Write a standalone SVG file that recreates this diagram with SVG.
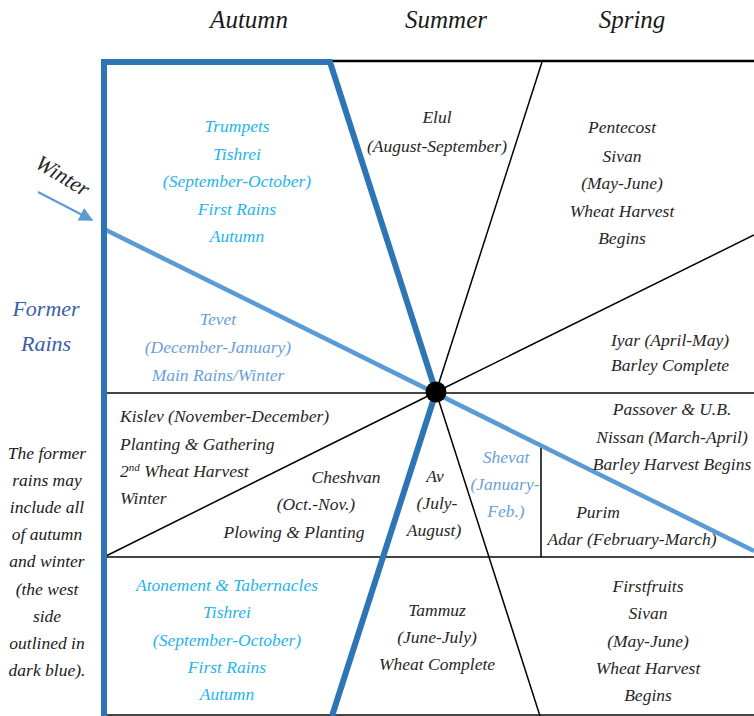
<svg xmlns="http://www.w3.org/2000/svg" width="754" height="716" viewBox="0 0 754 716">
  <style>
    text { font-family: "Liberation Serif", "DejaVu Serif", serif; font-style: italic; font-size: 17.5px; fill: #262626; }
    .c { text-anchor: middle; }
    .head { font-size: 25px; fill: #1a1a1a; }
    .cyan { fill: #1fb4ec; }
    .sky { fill: #6a9fd9; }
    .navy { fill: #3a5ea8; font-size: 22px; }
    .note { font-size: 17.5px; fill: #1a1a1a; }
    .thin { stroke: #000; stroke-width: 1.5; fill: none; }
    .grid { stroke: #444; stroke-width: 2.2; fill: none; }
    .rim { stroke: #2e75b6; stroke-width: 6; fill: none; stroke-linejoin: miter; }
    .rain { stroke: #5b9bd5; stroke-width: 4.5; fill: none; }
  </style>
  <defs>
    <marker id="tri" viewBox="0 0 10 10" refX="9" refY="5" markerWidth="7" markerHeight="7" orient="auto" markerUnits="strokeWidth">
      <path d="M0,0 L10,5 L0,10 z" fill="#5b9bd5"/>
    </marker>
  </defs>
  <rect width="754" height="716" fill="#fff"/>

  <!-- season headings -->
  <g id="headings">
    <text class="head c" x="249" y="28">Autumn</text>
    <text class="head c" x="446" y="28">Summer</text>
    <text class="head c" x="632" y="28">Spring</text>
  </g>

  <!-- dividing lines of the month wheel -->
  <g id="connectors">
    <line class="thin" x1="330" y1="61" x2="754" y2="61" style="stroke-width:2.5"/>
    <line class="grid" x1="105" y1="393" x2="754" y2="393"/>
    <line class="grid" x1="105" y1="557" x2="754" y2="557"/>
    <line class="grid" x1="105" y1="715" x2="754" y2="715"/>
    <line class="thin" x1="436" y1="392" x2="542" y2="62"/>
    <line class="thin" x1="436" y1="392" x2="754" y2="235"/>
    <line class="thin" x1="436" y1="392" x2="106" y2="556"/>
    <line class="thin" x1="436" y1="392" x2="540" y2="716"/>
    <line class="thin" x1="541" y1="446" x2="541" y2="557"/>
    <line class="rain" x1="106" y1="230" x2="754" y2="551"/>
    <polyline class="rim" points="104,716 104,62 330,62 436,392 332,716"/>
    <line x1="38" y1="192" x2="92" y2="220" stroke="#5b9bd5" stroke-width="2" marker-end="url(#tri)"/>
    <circle cx="436" cy="392" r="10.5" fill="#000"/>
  </g>

  <g id="winter-label">
    <text class="c" transform="translate(59,182) rotate(31)" style="font-size:22px" x="0" y="0">Winter</text>
  </g>

  <g id="former-rains">
    <text class="navy c" x="46" y="316">Former</text>
    <text class="navy c" x="46" y="351">Rains</text>
  </g>

  <g id="note">
    <text class="note c" x="47" y="459">The former</text>
    <text class="note c" x="47" y="486">rains may</text>
    <text class="note c" x="47" y="513">include all</text>
    <text class="note c" x="47" y="540">of autumn</text>
    <text class="note c" x="47" y="567">and winter</text>
    <text class="note c" x="47" y="595">(the west</text>
    <text class="note c" x="47" y="622">side</text>
    <text class="note c" x="47" y="649">outlined in</text>
    <text class="note c" x="47" y="676">dark blue).</text>
  </g>

  <g id="tishrei-trumpets">
    <text class="cyan c" x="237" y="132">Trumpets</text>
    <text class="cyan c" x="237" y="160">Tishrei</text>
    <text class="cyan c" x="237" y="187">(September-October)</text>
    <text class="cyan c" x="237" y="215">First Rains</text>
    <text class="cyan c" x="237" y="242">Autumn</text>
  </g>

  <g id="elul">
    <text class="c" x="437" y="123">Elul</text>
    <text class="c" x="437" y="152">(August-September)</text>
  </g>

  <g id="sivan-pentecost">
    <text class="c" x="622" y="133">Pentecost</text>
    <text class="c" x="622" y="162">Sivan</text>
    <text class="c" x="622" y="189">(May-June)</text>
    <text class="c" x="622" y="217">Wheat Harvest</text>
    <text class="c" x="622" y="244">Begins</text>
  </g>

  <g id="iyar">
    <text class="c" x="670" y="346">Iyar (April-May)</text>
    <text class="c" x="670" y="371">Barley Complete</text>
  </g>

  <g id="tevet">
    <text class="sky c" x="218" y="325">Tevet</text>
    <text class="sky c" x="218" y="353">(December-January)</text>
    <text class="sky c" x="218" y="381">Main Rains/Winter</text>
  </g>

  <g id="kislev">
    <text x="120" y="422">Kislev (November-December)</text>
    <text x="120" y="450">Planting &amp; Gathering</text>
    <text x="120" y="477">2<tspan font-size="11" dy="-6">nd</tspan><tspan dy="6"> Wheat Harvest</tspan></text>
    <text x="120" y="504">Winter</text>
  </g>

  <g id="cheshvan">
    <text class="c" x="346" y="483">Cheshvan</text>
    <text class="c" x="316" y="510">(Oct.-Nov.)</text>
    <text class="c" x="294" y="538">Plowing &amp; Planting</text>
  </g>

  <g id="av">
    <text class="c" x="435" y="482">Av</text>
    <text class="c" x="437" y="509">(July-</text>
    <text class="c" x="434" y="536">August)</text>
  </g>

  <g id="shevat">
    <text class="sky c" x="506" y="463">Shevat</text>
    <text class="sky c" x="505" y="490">(January-</text>
    <text class="sky c" x="506" y="517">Feb.)</text>
  </g>

  <g id="nissan">
    <text class="c" x="672" y="415">Passover &amp; U.B.</text>
    <text class="c" x="672" y="443">Nissan (March-April)</text>
    <text class="c" x="672" y="470">Barley Harvest Begins</text>
  </g>

  <g id="adar">
    <text class="c" x="598" y="518">Purim</text>
    <text class="c" x="632" y="545">Adar (February-March)</text>
  </g>

  <g id="tishrei-atonement">
    <text class="cyan c" x="227" y="591">Atonement &amp; Tabernacles</text>
    <text class="cyan c" x="227" y="618">Tishrei</text>
    <text class="cyan c" x="227" y="646">(September-October)</text>
    <text class="cyan c" x="227" y="673">First Rains</text>
    <text class="cyan c" x="227" y="700">Autumn</text>
  </g>

  <g id="tammuz">
    <text class="c" x="437" y="616">Tammuz</text>
    <text class="c" x="437" y="643">(June-July)</text>
    <text class="c" x="437" y="670">Wheat Complete</text>
  </g>

  <g id="sivan-firstfruits">
    <text class="c" x="648" y="592">Firstfruits</text>
    <text class="c" x="648" y="619">Sivan</text>
    <text class="c" x="648" y="647">(May-June)</text>
    <text class="c" x="648" y="674">Wheat Harvest</text>
    <text class="c" x="648" y="701">Begins</text>
  </g>
</svg>
